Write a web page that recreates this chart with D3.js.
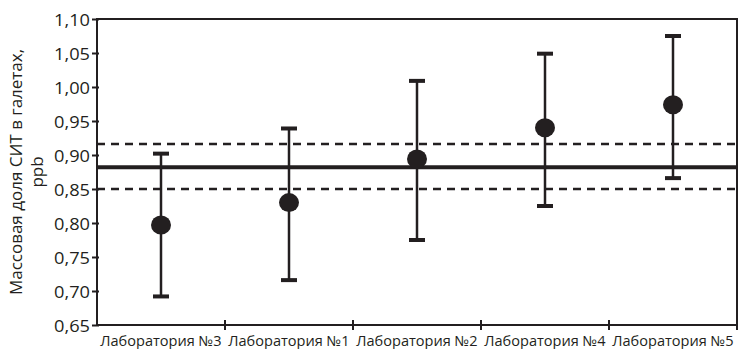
<!DOCTYPE html>
<html>
<head>
<meta charset="utf-8">
<script src="https://cdn.jsdelivr.net/npm/d3@7"></script>
<style>
  body { margin: 0; background: #fff; }
  text { font-family: "Open Sans", sans-serif; fill: #231f20; }
</style>
</head>
<body>
<div id="chart"></div>
<script>
// interlaboratory comparison: lab result with uncertainty vs assigned value

const labs = ["Лаборатория №3", "Лаборатория №1", "Лаборатория №2", "Лаборатория №4", "Лаборатория №5"];
const values = [0.797, 0.830, 0.894, 0.940, 0.974];
const lower = [0.692, 0.716, 0.775, 0.825, 0.866];
const upper = [0.902, 0.939, 1.009, 1.049, 1.075];
const yTicks = [0.65, 0.70, 0.75, 0.80, 0.85, 0.90, 0.95, 1.00, 1.05, 1.10];
const assignedValue = 0.882;
const limits = [0.850, 0.916];

const width = 744, height = 349;
const margin = { top: 19, right: 7, bottom: 24, left: 97 };
const ink = "#231f20";

const svg = d3.select("#chart").append("svg")
    .attr("width", width)
    .attr("height", height);

const x = d3.scaleBand()
    .domain(labs)
    .range([margin.left, width - margin.right]);

const y = d3.scaleLinear()
    .domain([0.65, 1.10])
    .range([height - margin.bottom, margin.top]);

const fmt = d => d.toFixed(2).replace(".", ",");

// frame
svg.append("rect")
    .attr("x", margin.left)
    .attr("y", margin.top)
    .attr("width", x.range()[1] - margin.left)
    .attr("height", y(0.65) - margin.top)
    .attr("fill", "none")
    .attr("stroke", ink)
    .attr("stroke-width", 2);

// y axis
const yAxis = svg.append("g")
    .attr("transform", `translate(${margin.left},0)`)
    .call(d3.axisLeft(y).tickValues(yTicks).tickFormat(fmt).tickSize(5).tickPadding(2));
yAxis.select(".domain").remove();
yAxis.selectAll("line").attr("stroke", ink).attr("stroke-width", 2).attr("x2", 2).attr("x1", -5);
yAxis.selectAll("text")
    .style("font-family", "'Open Sans', sans-serif")
    .style("font-size", "17px")
    .attr("fill", ink)
    .attr("dy", "0.36em")
    .attr("textLength", 36)
    .attr("lengthAdjust", "spacingAndGlyphs");

// x axis: ticks at band boundaries, labels at band centres
const bounds = labs.map(l => x(l) + x.bandwidth());
svg.append("g").selectAll("line")
    .data(bounds)
    .enter().append("line")
    .attr("x1", d => d).attr("x2", d => d)
    .attr("y1", y(0.65) - 5).attr("y2", y(0.65) + 5)
    .attr("stroke", ink).attr("stroke-width", 2);

svg.append("g").selectAll("text")
    .data(labs)
    .enter().append("text")
    .attr("transform", d => `translate(${x(d) + x.bandwidth() / 2},${y(0.65) + 21}) scale(1.04,1)`)
    .attr("text-anchor", "middle")
    .style("font-size", "14px")
    .text(d => d);

// assigned value and limits
svg.append("line")
    .attr("x1", margin.left).attr("x2", x.range()[1])
    .attr("y1", y(assignedValue)).attr("y2", y(assignedValue))
    .attr("stroke", ink).attr("stroke-width", 4);

svg.append("g").selectAll("line")
    .data(limits)
    .enter().append("line")
    .attr("x1", margin.left).attr("x2", x.range()[1])
    .attr("y1", d => y(d)).attr("y2", d => y(d))
    .attr("stroke", ink).attr("stroke-width", 2.5)
    .attr("stroke-dasharray", "8,6");

// error bars
const rows = labs.map((l, i) => ({ lab: l, v: values[i], lo: lower[i], hi: upper[i] }));
const cx = d => x(d.lab) + x.bandwidth() / 2;
const capW = 16;

const bars = svg.append("g");
bars.selectAll(".stem")
    .data(rows)
    .enter().append("line")
    .attr("x1", cx).attr("x2", cx)
    .attr("y1", d => y(d.lo)).attr("y2", d => y(d.hi))
    .attr("stroke", ink).attr("stroke-width", 2.5);

bars.selectAll(".cap")
    .data(rows.flatMap(d => [{ lab: d.lab, v: d.lo }, { lab: d.lab, v: d.hi }]))
    .enter().append("line")
    .attr("x1", d => cx(d) - capW / 2).attr("x2", d => cx(d) + capW / 2)
    .attr("y1", d => y(d.v)).attr("y2", d => y(d.v))
    .attr("stroke", ink).attr("stroke-width", 4);

bars.selectAll("circle")
    .data(rows)
    .enter().append("ellipse")
    .attr("cx", cx)
    .attr("cy", d => y(d.v))
    .attr("rx", 10)
    .attr("ry", 9.5)
    .attr("fill", ink);

// y axis title
const yTitle = svg.append("text")
    .attr("transform", `translate(22,${(margin.top + y(0.65)) / 2}) rotate(-90)`)
    .attr("text-anchor", "middle")
    .style("font-size", "17px");
["Массовая доля СИТ в галетах,", "ppb"].forEach((line, i) => {
    yTitle.append("tspan")
        .attr("x", 0)
        .attr("dy", i === 0 ? 0 : 21)
        .text(line);
});
</script>
</body>
</html>
